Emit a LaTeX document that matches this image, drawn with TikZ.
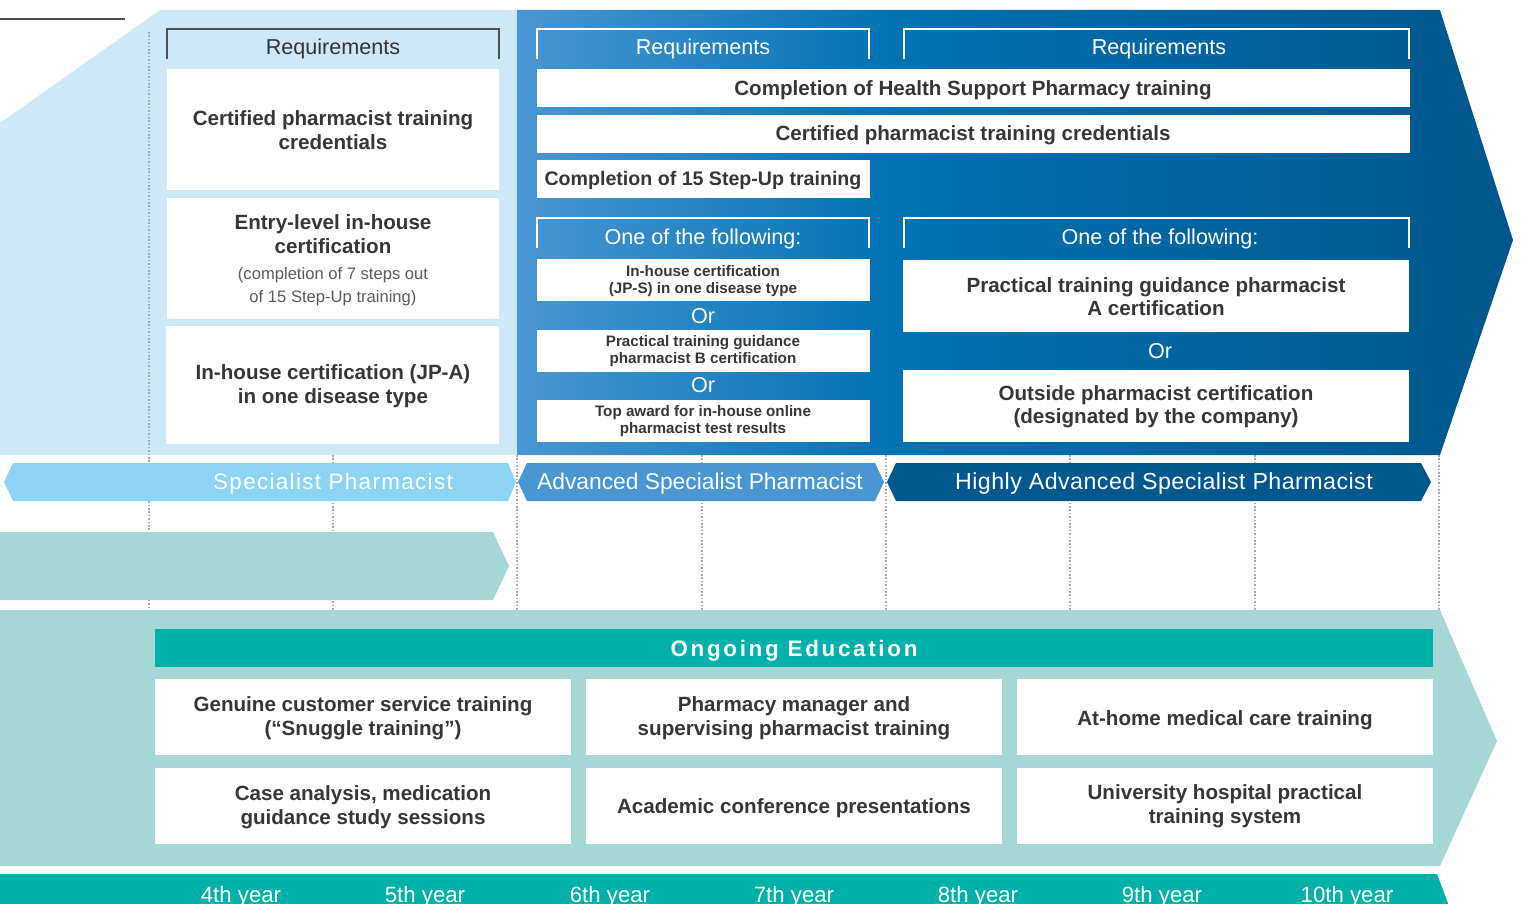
\documentclass[tikz,border=0pt]{standalone}
\usepackage{fontspec}
\setmainfont{Liberation Sans}
\newfontfamily\lsOngo[LetterSpace=12]{Liberation Sans}
\newfontfamily\lsSpec[LetterSpace=6]{Liberation Sans}
\newfontfamily\lsHigh[LetterSpace=2]{Liberation Sans}
\definecolor{lightblue}{HTML}{CDE9F9}
\definecolor{bA}{HTML}{4A96D3}
\definecolor{bB}{HTML}{0072B2}
\definecolor{bC}{HTML}{00568C}
\definecolor{ribA}{HTML}{8DD3F4}
\definecolor{ribB}{HTML}{4896D2}
\definecolor{ribC}{HTML}{00588F}
\definecolor{tealL}{HTML}{A5D8D4}
\definecolor{tealD}{HTML}{00B1A9}
\definecolor{txtdark}{HTML}{363636}
\definecolor{txtgray}{HTML}{333333}
\definecolor{txtlight}{HTML}{5A5A5A}
\definecolor{brkgray}{HTML}{505050}
\definecolor{dotgray}{HTML}{A8A8A8}
\pgfdeclarehorizontalshading{blueshade}{100bp}{color(0bp)=(bA); color(25bp)=(bA); color(44bp)=(bB); color(75bp)=(bC); color(100bp)=(bC)}
\tikzset{
  bt/.style={text=txtdark, font=\bfseries\fontsize{10.3}{12}\selectfont, align=center, inner sep=0pt},
  bs/.style={text=txtdark, font=\bfseries\fontsize{7.6}{8.6}\selectfont, align=center, inner sep=0pt},
  lt/.style={text=txtlight, font=\fontsize{8.3}{11.5}\selectfont, align=center, inner sep=0pt},
  wt/.style={text=white, font=\fontsize{10.8}{13}\selectfont, inner sep=0pt, anchor=base},
  rt/.style={text=white, inner sep=0pt, anchor=base},
  yr/.style={text=white, font=\fontsize{11.1}{13}\selectfont, inner sep=0pt, anchor=base},
  brk/.style={line width=0.6pt},
  dotline/.style={draw=dotgray, line width=0.6pt, dash pattern=on 0.8pt off 0.9pt},
  wbox/.style={fill=white},
}
\begin{document}
\begin{tikzpicture}[x=0.5pt,y=-0.5pt]
\useasboundingbox (0,0) rectangle (1523,904);

% top-left rule
\draw[brkgray, line width=0.6pt] (0,19) -- (125,19);

% background regions
\fill[lightblue] (0,123) -- (160,10) -- (517,10) -- (517,455) -- (0,455) -- cycle;
\shade[shading=blueshade] (517,10) -- (1440,10) -- (1513,240) -- (1440,455) -- (517,455) -- cycle;

% dotted year lines
\draw[dotline] (149,32) -- (149,610);
\foreach \xx in {333,517,702,886,1070,1255,1439} \draw[dotline] (\xx,455) -- (\xx,610);

% ----- Specialist column -----
\draw[brk, brkgray] (167,59) -- (167,29) -- (499,29) -- (499,59);
\node[wt, text=txtgray] (rq1) at (333,55) {Requirements};
\fill[wbox] (167,69) rectangle (499,190);
\node[bt] (s1) at (333,130) {Certified pharmacist training\\credentials};
\fill[wbox] (167,198) rectangle (499,319);
\node[bt] (s2) at (333,234) {Entry-level in-house\\certification};
\node[lt] (s2b) at (333,287) {(completion of 7 steps out\\of 15 Step-Up training)};
\fill[wbox] (166,326) rectangle (499,444);
\node[bt] (s3) at (333,386) {In-house certification (JP-A)\\in one disease type};

% ----- Advanced / Highly advanced requirements -----
\draw[brk, white] (537,59) -- (537,29) -- (869,29) -- (869,59);
\draw[brk, white] (904,59) -- (904,29) -- (1409,29) -- (1409,59);
\node[wt] (rq2) at (703,55) {Requirements};
\node[wt] (rq3) at (1159,55) {Requirements};

\fill[wbox] (537,69) rectangle (1410,107);
\node[bt, anchor=base] (a1) at (973,96) {Completion of Health Support Pharmacy training};
\fill[wbox] (537,115) rectangle (1410,153);
\node[bt, anchor=base] (a2) at (973,141) {Certified pharmacist training credentials};
\fill[wbox] (537,160) rectangle (870,198);
\node[bt, anchor=base, font=\bfseries\fontsize{9.8}{12}\selectfont] (a3) at (703,186) {Completion of 15 Step-Up training};

\draw[brk, white] (537,248) -- (537,218) -- (869,218) -- (869,248);
\draw[brk, white] (904,248) -- (904,218) -- (1409,218) -- (1409,248);
\node[wt] (of1) at (703,245) {One of the following:};
\node[wt] (of2) at (1160,245) {One of the following:};

\fill[wbox] (537,259) rectangle (870,301);
\node[bs] (b1) at (703,281) {In-house certification\\(JP-S) in one disease type};
\node[wt] (or1) at (703,323) {Or};
\fill[wbox] (537,330) rectangle (870,372);
\node[bs] (b2) at (703,351) {Practical training guidance\\pharmacist B certification};
\node[wt] (or2) at (703,393) {Or};
\fill[wbox] (537,400) rectangle (870,442);
\node[bs] (b3) at (703,421) {Top award for in-house online\\pharmacist test results};

\fill[wbox] (903,260) rectangle (1409,332);
\node[bt, font=\bfseries\fontsize{10.3}{11.5}\selectfont] (h1) at (1156,297) {Practical training guidance pharmacist\\A certification};
\node[wt] (or3) at (1160,358) {Or};
\fill[wbox] (903,370) rectangle (1409,442);
\node[bt, font=\bfseries\fontsize{10.3}{11.5}\selectfont] (h2) at (1156,407) {Outside pharmacist certification\\(designated by the company)};

% ----- ribbons -----
\fill[ribA] (4,482) -- (13,463) -- (508,463) -- (516,482) -- (508,501) -- (13,501) -- cycle;
\node[rt, font=\lsSpec\fontsize{11.2}{13}\selectfont] (r1) at (333,489) {Specialist Pharmacist};
\fill[ribB] (518,482) -- (527,463) -- (875,463) -- (884,482) -- (875,501) -- (527,501) -- cycle;
\node[rt, font=\fontsize{11.4}{13}\selectfont] (r2) at (700,489) {Advanced Specialist Pharmacist};
\fill[ribC] (887,482) -- (896,463) -- (1421,463) -- (1431,482) -- (1421,501) -- (896,501) -- cycle;
\node[rt, font=\lsHigh\fontsize{11.6}{13}\selectfont] (r3) at (1164,489) {Highly Advanced Specialist Pharmacist};

% ----- teal band -----
\fill[tealL] (0,532) -- (493,532) -- (509,566) -- (493,600) -- (0,600) -- cycle;

% ----- ongoing education -----
\fill[tealL] (0,610) -- (1440,610) -- (1497,741) -- (1440,866) -- (0,866) -- cycle;
\fill[tealD] (155,629) rectangle (1433,667);
\node[rt, font=\lsOngo\bfseries\fontsize{11.2}{13}\selectfont] (oe) at (794,656) {Ongoing Education};

\fill[wbox] (155,679) rectangle (571,755);
\node[bt] (e1) at (363,718) {Genuine customer service training\\(“Snuggle training”)};
\fill[wbox] (586,679) rectangle (1002,755);
\node[bt] (e2) at (794,718) {Pharmacy manager and\\supervising pharmacist training};
\fill[wbox] (1017,679) rectangle (1433,755);
\node[bt, anchor=base] (e3) at (1225,725) {At-home medical care training};
\fill[wbox] (155,768) rectangle (571,844);
\node[bt] (e4) at (363,807) {Case analysis, medication\\guidance study sessions};
\fill[wbox] (586,768) rectangle (1002,844);
\node[bt, anchor=base] (e5) at (794,813) {Academic conference presentations};
\fill[wbox] (1017,768) rectangle (1433,844);
\node[bt] (e6) at (1225,806) {University hospital practical\\training system};

% ----- year band -----
\fill[tealD] (0,874) -- (1437,874) -- (1449,906) -- (1437,938) -- (0,938) -- cycle;
\node[yr] (y4) at (241,902) {4th year};
\node[yr] (y5) at (425,902) {5th year};
\node[yr] (y6) at (610,902) {6th year};
\node[yr] (y7) at (794,902) {7th year};
\node[yr] (y8) at (978,902) {8th year};
\node[yr] (y9) at (1162,902) {9th year};
\node[yr] (y10) at (1347,902) {10th year};
\end{tikzpicture}
\end{document}
